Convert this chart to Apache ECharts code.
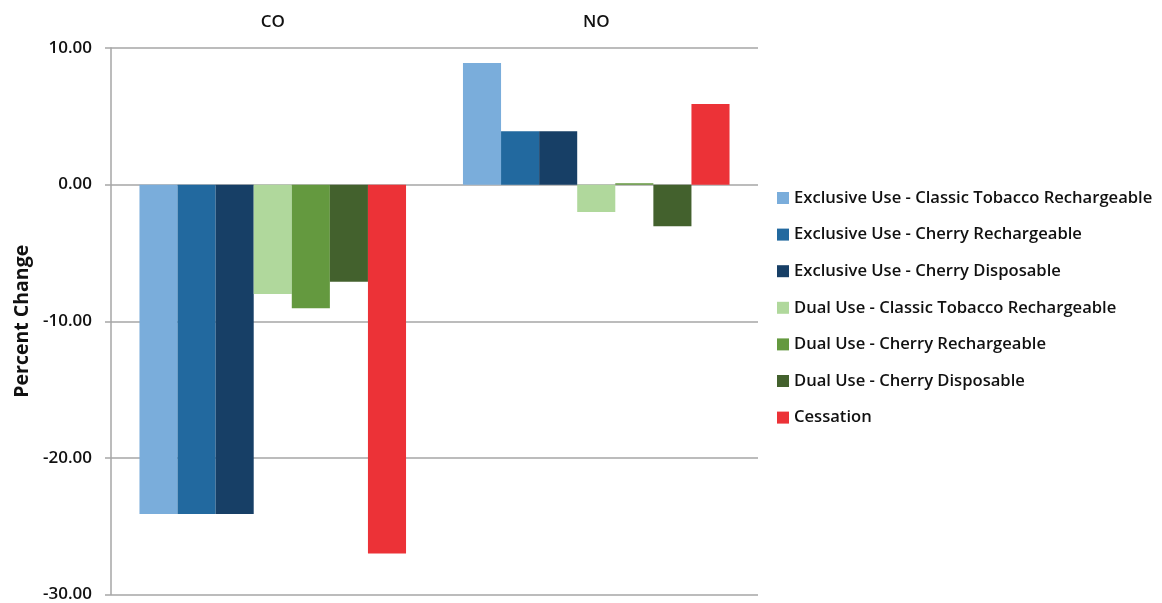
<!DOCTYPE html>
<html><head><meta charset="utf-8">
<script src="https://cdn.jsdelivr.net/npm/echarts@6/dist/echarts.min.js"></script>
<style>html,body{margin:0;padding:0;background:#fff}#c{width:1162px;height:603px}</style>
</head><body><div id="c"></div>
<script>
const categories = ['CO', 'NO'];
const seriesNames = [
  'Exclusive Use - Classic Tobacco Rechargeable',
  'Exclusive Use - Cherry Rechargeable',
  'Exclusive Use - Cherry Disposable',
  'Dual Use - Classic Tobacco Rechargeable',
  'Dual Use - Cherry Rechargeable',
  'Dual Use - Cherry Disposable',
  'Cessation'
];
const exclClassic = [-24.1, 8.9];
const exclCherryRech = [-24.1, 3.9];
const exclCherryDisp = [-24.1, 3.9];
const dualClassic = [-8.0, -2.0];
const dualCherryRech = [-9.05, 0.1];
const dualCherryDisp = [-7.1, -3.05];
const cessation = [-27.0, 5.9];
const seriesValues = [exclClassic, exclCherryRech, exclCherryDisp, dualClassic, dualCherryRech, dualCherryDisp, cessation];
const colors = ['#7aaddb', '#22699f', '#173f66', '#b0d89c', '#64993f', '#43612d', '#ec3237'];

const font = '"Open Sans", Lato, sans-serif';
const chart = echarts.init(document.getElementById('c'));
chart.setOption({
  animation: false,
  color: colors,
  grid: { left: 111, right: 404, top: 48, bottom: 7, containLabel: false },
  legend: {
    orient: 'vertical', left: 772, top: 184,
    itemWidth: 12, itemHeight: 12, itemGap: 18.6,
    icon: 'rect',
    textStyle: { fontFamily: font, fontSize: 16.6, fontWeight: 600, color: '#111', lineHeight: 18 },
    data: seriesNames
  },
  xAxis: {
    type: 'category', position: 'top', data: categories,
    axisLine: { show: false, onZero: false }, axisTick: { show: false },
    axisLabel: { margin: 17, fontFamily: font, fontSize: 17, fontWeight: 600, color: '#111' }
  },
  yAxis: {
    type: 'value', min: -30, max: 10, interval: 10,
    name: 'Percent Change', nameLocation: 'middle', nameGap: 79,
    nameTextStyle: { fontFamily: font, fontSize: 19.5, fontWeight: 'bold', color: '#111' },
    axisLine: { show: true, lineStyle: { color: '#a6a6a6', width: 1.5 } },
    axisTick: { show: true, length: 6, lineStyle: { color: '#a6a6a6', width: 1.5 } },
    splitLine: { lineStyle: { color: '#a6a6a6', width: 1.5 } },
    axisLabel: { margin: 19, fontFamily: font, fontSize: 17, fontWeight: 600, color: '#111', formatter: v => v.toFixed(2) }
  },
  series: seriesNames.map((n, i) => ({
    name: n, type: 'bar', data: seriesValues[i],
    barGap: '0%', barCategoryGap: '17.6%'
  }))
});
</script></body></html>
